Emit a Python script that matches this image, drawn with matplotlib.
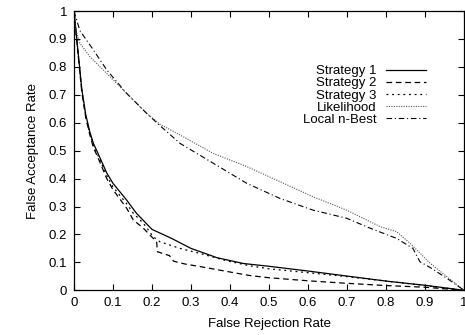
import matplotlib
matplotlib.use('Agg')
import matplotlib.pyplot as plt

plt.rcParams['font.family'] = ['Liberation Sans', 'DejaVu Sans']

# Strategy 1 (solid)
s1_x = [0, 0.01, 0.02, 0.03, 0.04, 0.05, 0.06, 0.084, 0.10, 0.135, 0.16, 0.20, 0.25,
        0.30, 0.366, 0.434, 0.5, 0.6, 0.7, 0.8, 0.9, 1.0]
s1_y = [1.0, 0.86, 0.72, 0.63, 0.57, 0.525, 0.495, 0.42, 0.383, 0.323, 0.276, 0.218, 0.186,
        0.150, 0.117, 0.096, 0.086, 0.069, 0.051, 0.033, 0.018, 0.0]

# Strategy 2 (dashed)
s2_x = [0, 0.01, 0.02, 0.03, 0.04, 0.05, 0.06, 0.084, 0.10, 0.135, 0.152, 0.178, 0.203,
        0.212, 0.214, 0.245, 0.25, 0.256, 0.285, 0.323, 0.39, 0.45, 0.5, 0.6, 0.7, 0.8, 0.9, 1.0]
s2_y = [1.0, 0.85, 0.71, 0.62, 0.56, 0.51, 0.48, 0.40, 0.36, 0.294, 0.252, 0.222, 0.186,
        0.172, 0.138, 0.124, 0.112, 0.104, 0.094, 0.085, 0.068, 0.053, 0.045, 0.034, 0.025,
        0.017, 0.011, 0.0]

# Strategy 3 (short dashes)
s3_x = [0, 0.01, 0.02, 0.03, 0.04, 0.05, 0.06, 0.084, 0.10, 0.135, 0.152, 0.178, 0.203,
        0.22, 0.272, 0.323, 0.39, 0.45, 0.5, 0.6, 0.7, 0.8, 0.9, 1.0]
s3_y = [1.0, 0.855, 0.715, 0.625, 0.565, 0.518, 0.488, 0.41, 0.37, 0.31, 0.276, 0.24, 0.192,
        0.174, 0.15, 0.132, 0.106, 0.088, 0.077, 0.063, 0.049, 0.033, 0.017, 0.0]

# Likelihood (fine dots)
lk_x = [0, 0.005, 0.015, 0.041, 0.067, 0.092, 0.135, 0.186, 0.22, 0.272, 0.357, 0.443,
        0.528, 0.613, 0.699, 0.785, 0.827, 0.862, 0.913, 0.956, 1.0]
lk_y = [1.0, 0.93, 0.885, 0.836, 0.80, 0.765, 0.705, 0.634, 0.595, 0.556, 0.49, 0.443,
        0.389, 0.335, 0.287, 0.228, 0.21, 0.168, 0.097, 0.049, 0.0]

# Local n-Best (dash-dot)
nb_x = [0, 0.015, 0.05, 0.084, 0.135, 0.186, 0.22, 0.272, 0.357, 0.443, 0.528, 0.613,
        0.699, 0.76, 0.827, 0.869, 0.887, 0.913, 0.956, 1.0]
nb_y = [1.0, 0.93, 0.86, 0.789, 0.705, 0.634, 0.59, 0.526, 0.455, 0.383, 0.329, 0.287,
        0.258, 0.222, 0.186, 0.15, 0.102, 0.082, 0.043, 0.0]

ticks = [0, 0.1, 0.2, 0.3, 0.4, 0.5, 0.6, 0.7, 0.8, 0.9, 1]
tick_labels = ['0', '0.1', '0.2', '0.3', '0.4', '0.5', '0.6', '0.7', '0.8', '0.9', '1']

fig = plt.figure(figsize=(4.65, 3.35), dpi=100)
ax = fig.add_axes([74 / 465, 1 - 290.3 / 335, 390 / 465, 279.3 / 335])

fs = 9.5
lw = 0.9
ax.plot(s1_x, s1_y, color='black', lw=lw, label='Strategy 1')
ax.plot(s2_x, s2_y, color='black', lw=lw, ls=(0, (4.5, 3)), label='Strategy 2')
ax.plot(s3_x, s3_y, color='black', lw=lw, ls=(0, (1.5, 3)), label='Strategy 3')
ax.plot(lk_x, lk_y, color='#555555', lw=0.8, ls=(0, (1, 1.2)), label='Likelihood')
ax.plot(nb_x, nb_y, color='black', lw=0.8, ls=(0, (5, 2.5, 1, 2.5)), label='Local n-Best')

ax.set_xlim(0, 1)
ax.set_ylim(0, 1)
ax.set_xticks(ticks)
ax.set_xticklabels(tick_labels)
ax.set_yticks(ticks)
ax.set_yticklabels(tick_labels)
ax.tick_params(direction='in', top=True, right=True, length=4, width=0.8,
               labelsize=fs, pad=5)
for sp in ax.spines.values():
    sp.set_linewidth(0.9)

ax.set_xlabel('False Rejection Rate', fontsize=fs, labelpad=6)
ax.set_ylabel('False Acceptance Rate', fontsize=fs, labelpad=7)

ax.legend(loc='upper right', bbox_to_anchor=(0.925, 0.84), frameon=False,
          markerfirst=False, fontsize=fs, handlelength=3.0, handletextpad=0.7,
          labelspacing=0.0, borderpad=0.2)

fig.savefig('out.png', dpi=100)
